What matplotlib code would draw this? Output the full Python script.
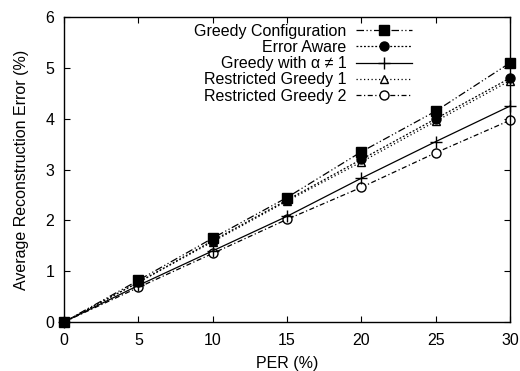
import numpy as np
import matplotlib
matplotlib.use("Agg")
import matplotlib.pyplot as plt

plt.rcParams['font.family'] = ['Liberation Sans', 'DejaVu Sans']

# PER values and the five curves
per = [0, 5, 10, 15, 20, 25, 30]
greedy = [0, 0.82, 1.65, 2.45, 3.35, 4.15, 5.10]
err_aware = [0, 0.78, 1.60, 2.40, 3.20, 4.00, 4.80]
greedy_alpha = [0, 0.72, 1.40, 2.08, 2.83, 3.55, 4.25]
rg1 = [0, 0.78, 1.58, 2.38, 3.15, 3.95, 4.75]
rg2 = [0, 0.68, 1.35, 2.02, 2.65, 3.33, 3.97]

fig = plt.figure(figsize=(5.2, 3.71), dpi=100)
ax = fig.add_axes([0.123, 0.132, 0.858, 0.822])

lw = 0.9
ax.plot(per, rg2, color='black', lw=lw, ls=(0, (4, 2, 1, 2)), clip_on=False,
        marker='o', ms=6.5, mfc='white', label='Restricted Greedy 2')
ax.plot(per, rg1, color='black', lw=lw, ls=(0, (1, 2)), clip_on=False,
        marker='^', ms=6, mfc='white', label='Restricted Greedy 1')
ax.plot(per, greedy_alpha, color='black', lw=lw, ls='-', clip_on=False,
        marker='+', ms=8, mew=1, label='Greedy with \u03b1 \u2260 1')
ax.plot(per, err_aware, color='black', lw=lw, ls=(0, (1.5, 1.5)), clip_on=False,
        marker='o', ms=6.5, label='Error Aware')
ax.plot(per, greedy, color='black', lw=lw, ls=(0, (6, 2, 1, 2, 1, 2)), clip_on=False,
        marker='s', ms=7, label='Greedy Configuration')

ax.set_xlim(0, 30)
ax.set_ylim(0, 6)
ax.set_xticks(np.arange(0, 31, 5))
ax.set_yticks(np.arange(0, 7, 1))
for s in ax.spines.values():
    s.set_linewidth(1.0)
ax.tick_params(direction='in', top=True, right=True, labelsize=11.5, length=4)
ax.tick_params(axis='x', pad=8)
ax.tick_params(axis='y', pad=7)
ax.set_xlabel('PER (%)', fontsize=11.5, labelpad=6)
ax.set_ylabel('Average Reconstruction Error (%)', fontsize=11.5, labelpad=12)

# legend order as in the original (top to bottom)
h, l = ax.get_legend_handles_labels()
ax.legend(h[::-1], l[::-1], loc='upper left', bbox_to_anchor=(0.27, 1.01),
          frameon=False, markerfirst=False, fontsize=11.5, handlelength=3.5,
          labelspacing=0.08, borderaxespad=0.2, handletextpad=0.6)

fig.savefig('out.png', dpi=100)
